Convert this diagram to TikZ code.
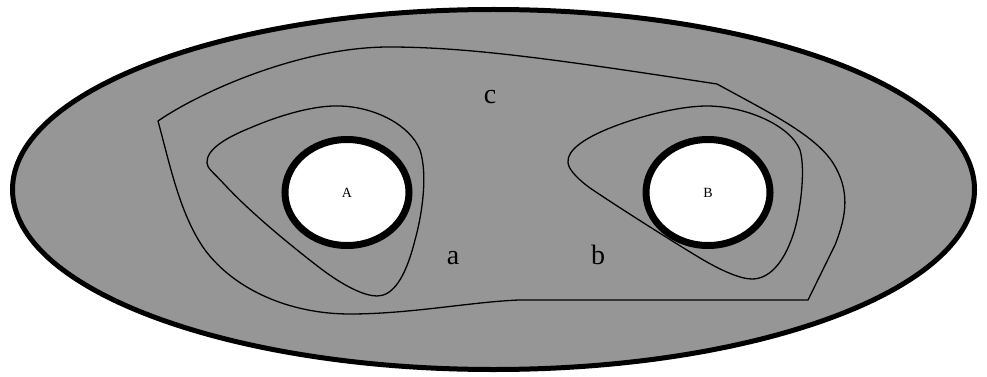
\documentclass[tikz,border=0pt]{standalone}
\usepackage{fontspec}
\setmainfont{Liberation Serif}
\usetikzlibrary{shapes.geometric}
\definecolor{regiongray}{RGB}{150,150,150}
\tikzset{
  hole/.style={draw, ellipse, line width=7pt, fill=white, minimum width=124pt, minimum height=106pt, inner sep=0pt, font=\fontsize{14}{14}\selectfont},
  loop/.style={draw, line width=1.3pt, line join=round},
  lbl/.style={font=\fontsize{28}{28}\selectfont, inner sep=0pt}
}
\begin{document}
\begin{tikzpicture}[x=1pt,y=-1pt]
\useasboundingbox (0,0) rectangle (987,377);
% outer surface
\draw[line width=5pt, fill=regiongray] (493.5,189.5) ellipse [x radius=481, y radius=180];
% big loop c
\draw[loop] (158,121)
  .. controls (200,92) and (300,47) .. (389,47)
  .. controls (470,47) and (560,60) .. (717,84)
  .. controls (770,113) and (815,135) .. (833,163)
  .. controls (850,190) and (847,215) .. (835,245)
  -- (808,300) -- (519,300)
  .. controls (470,302) and (410,314) .. (350,314)
  .. controls (290,314) and (235,290) .. (205,250)
  .. controls (180,215) and (170,165) .. (158,121) -- cycle;
% loop a around A
\draw[loop] (207,163)
  .. controls (206,150) and (225,138) .. (250,128)
  .. controls (280,115) and (315,105) .. (340,106)
  .. controls (375,107) and (410,125) .. (420,150)
  .. controls (428,175) and (422,215) .. (415,240)
  .. controls (405,280) and (392,296) .. (377,296)
  .. controls (365,296) and (345,287) .. (320,268)
  .. controls (290,245) and (250,212) .. (225,185)
  .. controls (213,172) and (207,168) .. (207,163) -- cycle;
% loop b around B
\draw[loop] (568,162)
  .. controls (567,150) and (585,138) .. (610,128)
  .. controls (640,116) and (680,106) .. (707,106)
  .. controls (745,106) and (790,125) .. (800,150)
  .. controls (806,170) and (800,215) .. (793,235)
  .. controls (783,265) and (768,279) .. (752,279)
  .. controls (740,279) and (720,270) .. (700,258)
  .. controls (670,240) and (615,205) .. (590,188)
  .. controls (575,177) and (568,168) .. (568,162) -- cycle;
% holes
\node[hole] (A) at (347,192.5) {A};
\node[hole] (B) at (708,192.5) {B};
% labels
\node[lbl] (la) at (453,258) {a};
\node[lbl] (lb) at (598,255) {b};
\node[lbl] (lc) at (490,97) {c};
\end{tikzpicture}
\end{document}
